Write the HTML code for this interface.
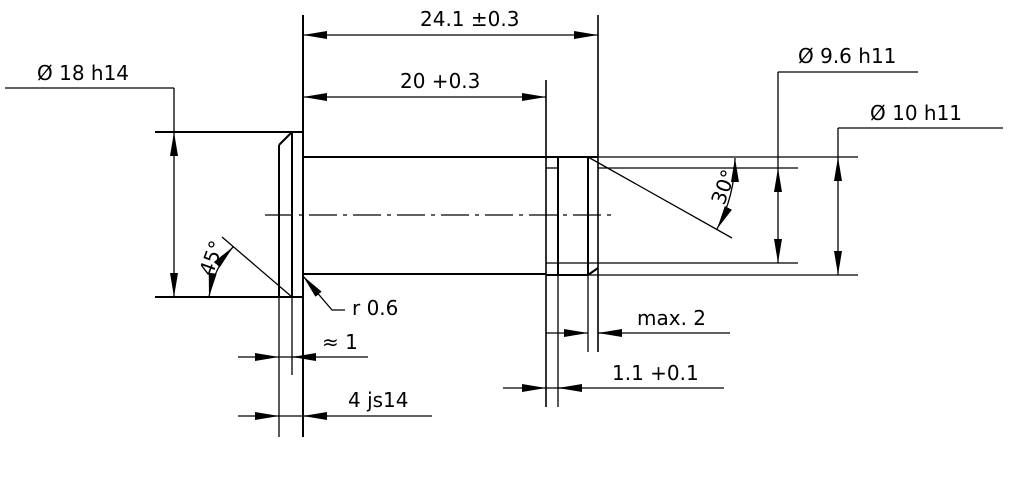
<!DOCTYPE html>
<html><head><style>body{margin:0;background:#fff}svg{display:block}text{font-family:"DejaVu Sans","Liberation Sans",sans-serif;font-size:20px;fill:#000}</style></head><body>
<svg width="1020" height="500" viewBox="0 0 1020 500">
<defs>
<marker id="a" markerWidth="26" markerHeight="10" refX="24" refY="5" orient="auto" markerUnits="userSpaceOnUse"><path d="M0,1 L24,5 L0,9Z" fill="#000"/></marker>
<marker id="b" markerWidth="26" markerHeight="10" refX="1" refY="5" orient="auto" markerUnits="userSpaceOnUse"><path d="M25,1 L1,5 L25,9Z" fill="#000"/></marker>
</defs>
<g stroke="#000" fill="none" stroke-width="1.3">
<g stroke-width="2">
<line x1="155" y1="132" x2="303" y2="132"/>
<line x1="155" y1="297" x2="303" y2="297"/>
<line x1="303" y1="157" x2="546" y2="157"/>
<line x1="303" y1="274" x2="546" y2="274"/>
<line x1="292" y1="132" x2="292" y2="297"/>
<line x1="279" y1="145" x2="279" y2="297"/>
<line x1="279" y1="145" x2="292" y2="132"/>
<line x1="558" y1="157" x2="558" y2="275"/>
<line x1="588" y1="157" x2="588" y2="275"/>
<line x1="546" y1="157" x2="598" y2="157"/>
<line x1="546" y1="275" x2="588" y2="275"/>
<line x1="588" y1="275" x2="598" y2="268"/>
</g>
<line x1="303" y1="15" x2="303" y2="437" stroke-width="2"/>
<line x1="292" y1="297" x2="292" y2="375"/>
<line x1="279" y1="297" x2="279" y2="437"/>
<line x1="546" y1="80" x2="546" y2="407" stroke-width="1.6"/>
<line x1="558" y1="275" x2="558" y2="407"/>
<line x1="588" y1="275" x2="588" y2="352"/>
<line x1="598" y1="15" x2="598" y2="352" stroke-width="1.6"/>
<line x1="546" y1="168" x2="558" y2="168"/>
<line x1="598" y1="168" x2="798" y2="168"/>
<line x1="546" y1="263" x2="798" y2="263"/>
<line x1="588" y1="157" x2="858" y2="157"/>
<line x1="588" y1="275" x2="858" y2="275"/>
<line x1="588" y1="157" x2="732" y2="238"/>
<line x1="265" y1="215" x2="615" y2="215" stroke-dasharray="28,6,4,6"/>
<line x1="222" y1="237" x2="292" y2="297"/>
<line x1="5" y1="88" x2="174" y2="88"/>
<line x1="174" y1="88" x2="174" y2="132"/>
<line x1="174" y1="132" x2="174" y2="297" marker-start="url(#b)" marker-end="url(#a)"/>
<line x1="303" y1="35" x2="598" y2="35" marker-start="url(#b)" marker-end="url(#a)"/>
<line x1="303" y1="97" x2="546" y2="97" marker-start="url(#b)" marker-end="url(#a)"/>
<line x1="778" y1="72" x2="918" y2="72"/>
<line x1="778" y1="72" x2="778" y2="168"/>
<line x1="778" y1="168" x2="778" y2="263" marker-start="url(#b)" marker-end="url(#a)"/>
<line x1="838" y1="128" x2="1003" y2="128"/>
<line x1="838" y1="128" x2="838" y2="157"/>
<line x1="838" y1="157" x2="838" y2="275" marker-start="url(#b)" marker-end="url(#a)"/>
<line x1="238" y1="357" x2="279" y2="357" marker-end="url(#a)"/>
<line x1="279" y1="357" x2="368" y2="357"/>
<line x1="316" y1="357" x2="292" y2="357" marker-end="url(#a)"/>
<line x1="238" y1="416" x2="279" y2="416" marker-end="url(#a)"/>
<line x1="279" y1="416" x2="432" y2="416"/>
<line x1="328" y1="416" x2="303" y2="416" marker-end="url(#a)"/>
<line x1="546" y1="333" x2="588" y2="333" marker-end="url(#a)"/>
<line x1="598" y1="333" x2="730" y2="333"/>
<line x1="622" y1="333" x2="598" y2="333" marker-end="url(#a)"/>
<line x1="503" y1="388" x2="546" y2="388" marker-end="url(#a)"/>
<line x1="546" y1="388" x2="724" y2="388"/>
<line x1="582" y1="388" x2="558" y2="388" marker-end="url(#a)"/>
<polyline points="345,310 332,310 303,276" marker-end="url(#a)"/>
<path d="M209,297 A96 96 0 0 1 233,247" marker-start="url(#b)" marker-end="url(#a)"/>
<path d="M735,158 A150 150 0 0 1 717,229" marker-start="url(#b)" marker-end="url(#a)"/>
</g>
<text x="37" y="80">Ø 18 h14</text>
<text x="420" y="26">24.1 ±0.3</text>
<text x="400" y="88">20 +0.3</text>
<text x="798" y="63">Ø 9.6 h11</text>
<text x="870" y="120">Ø 10 h11</text>
<text x="352" y="315">r 0.6</text>
<text x="322" y="349">≈ 1</text>
<text x="348" y="407">4 js14</text>
<text x="637" y="325">max. 2</text>
<text x="612" y="380">1.1 +0.1</text>
<text transform="translate(212,277) rotate(-70)">45°</text>
<text transform="translate(724,206) rotate(-70)">30°</text>
</svg>
</body></html>
